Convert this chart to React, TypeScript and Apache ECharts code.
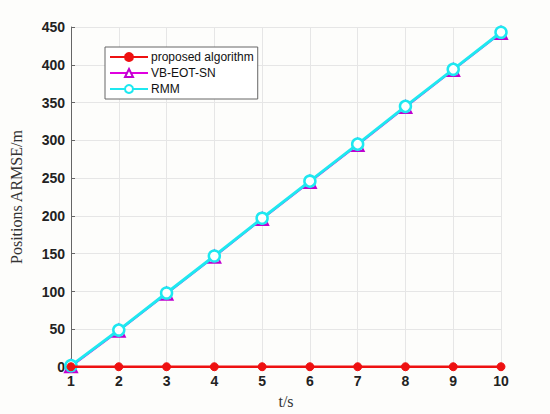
import React, { useEffect, useRef } from "react";
import * as echarts from "echarts";

const times = [1, 2, 3, 4, 5, 6, 7, 8, 9, 10];
const proposed = [0.5, 0.5, 0.5, 0.5, 0.5, 0.5, 0.5, 0.5, 0.5, 0.5];
const vbEotSn = [1, 48, 97, 146, 196, 245, 294, 344, 393, 442];
const rmm = [2, 49, 98, 147, 197, 246, 295, 345, 394, 443];
const yTicks = [0, 50, 100, 150, 200, 250, 300, 350, 400, 450];

export default function App() {
  const ref = useRef<HTMLDivElement>(null);
  useEffect(() => {
    if (!ref.current) return;
    const chart = echarts.init(ref.current, undefined, { renderer: "svg" });
    const pair = (arr: number[]) => times.map((t, i) => [t, arr[i]]);
    chart.setOption({
      animation: false,
      backgroundColor: "#fdfdfb",
      grid: { left: 66, right: 49, top: 27, bottom: 45, containLabel: false },
      xAxis: {
        type: "value",
        min: 1,
        max: 10,
        interval: 1,
        name: "t/s",
        nameLocation: "middle",
        nameGap: 24,
        nameTextStyle: { fontFamily: "Liberation Serif", fontSize: 16, color: "#333" },
        axisLine: { show: true, lineStyle: { color: "#555", width: 1 } },
        axisTick: { show: false },
        axisLabel: { fontFamily: "Liberation Sans", fontWeight: "bold", fontSize: 14, color: "#222", margin: 7 },
        splitLine: { show: true, lineStyle: { color: "#e6e6e6", width: 1 } },
      },
      yAxis: {
        type: "value",
        min: 0,
        max: 450,
        interval: 50,
        name: "Positions ARMSE/m",
        nameLocation: "middle",
        nameGap: 47,
        nameTextStyle: { fontFamily: "Liberation Serif", fontSize: 16, color: "#333" },
        axisLine: { show: true, lineStyle: { color: "#666", width: 1 } },
        axisTick: { show: true, inside: true, length: 4, lineStyle: { color: "#666" } },
        axisLabel: {
          fontFamily: "Liberation Sans",
          fontWeight: "bold",
          fontSize: 14,
          color: "#222",
          margin: 6,
          formatter: (v: number) => (yTicks.includes(v) ? String(v) : ""),
        },
        splitLine: { show: true, lineStyle: { color: "#e6e6e6", width: 1 } },
      },
      legend: {
        orient: "vertical",
        left: 105,
        top: 47,
        itemWidth: 38,
        itemHeight: 10,
        itemGap: 4,
        padding: [4, 4, 4, 4],
        backgroundColor: "#ffffff",
        borderColor: "#666",
        borderWidth: 1,
        borderRadius: 0,
        textStyle: { fontFamily: "Liberation Sans", fontSize: 12, color: "#111", padding: [0, 0, 0, -2] },
        data: ["proposed algorithm", "VB-EOT-SN", "RMM"],
      },
      series: [
        {
          name: "VB-EOT-SN",
          type: "line",
          data: pair(vbEotSn),
          clip: false,
          symbol: "triangle",
          symbolSize: 12,
          lineStyle: { color: "#e000e0", width: 2 },
          itemStyle: { color: "#ffffff", borderColor: "#c000d0", borderWidth: 2 },
          z: 2,
        },
        {
          name: "RMM",
          type: "line",
          data: pair(rmm),
          clip: false,
          symbol: "circle",
          symbolSize: 11,
          lineStyle: { color: "#1ee8f0", width: 3 },
          itemStyle: { color: "#ffffff", borderColor: "#1ee8f0", borderWidth: 2.5 },
          z: 3,
        },
        {
          name: "proposed algorithm",
          type: "line",
          data: pair(proposed),
          clip: false,
          symbol: "circle",
          symbolSize: 8,
          lineStyle: { color: "#ee1111", width: 2.5 },
          itemStyle: { color: "#ee1111", borderColor: "#ee1111", borderWidth: 1 },
          z: 4,
        },
      ],
    });
    return () => chart.dispose();
  }, []);
  return <div ref={ref} style={{ position: "absolute", left: 0, top: 0, width: 550, height: 414 }} />;
}
